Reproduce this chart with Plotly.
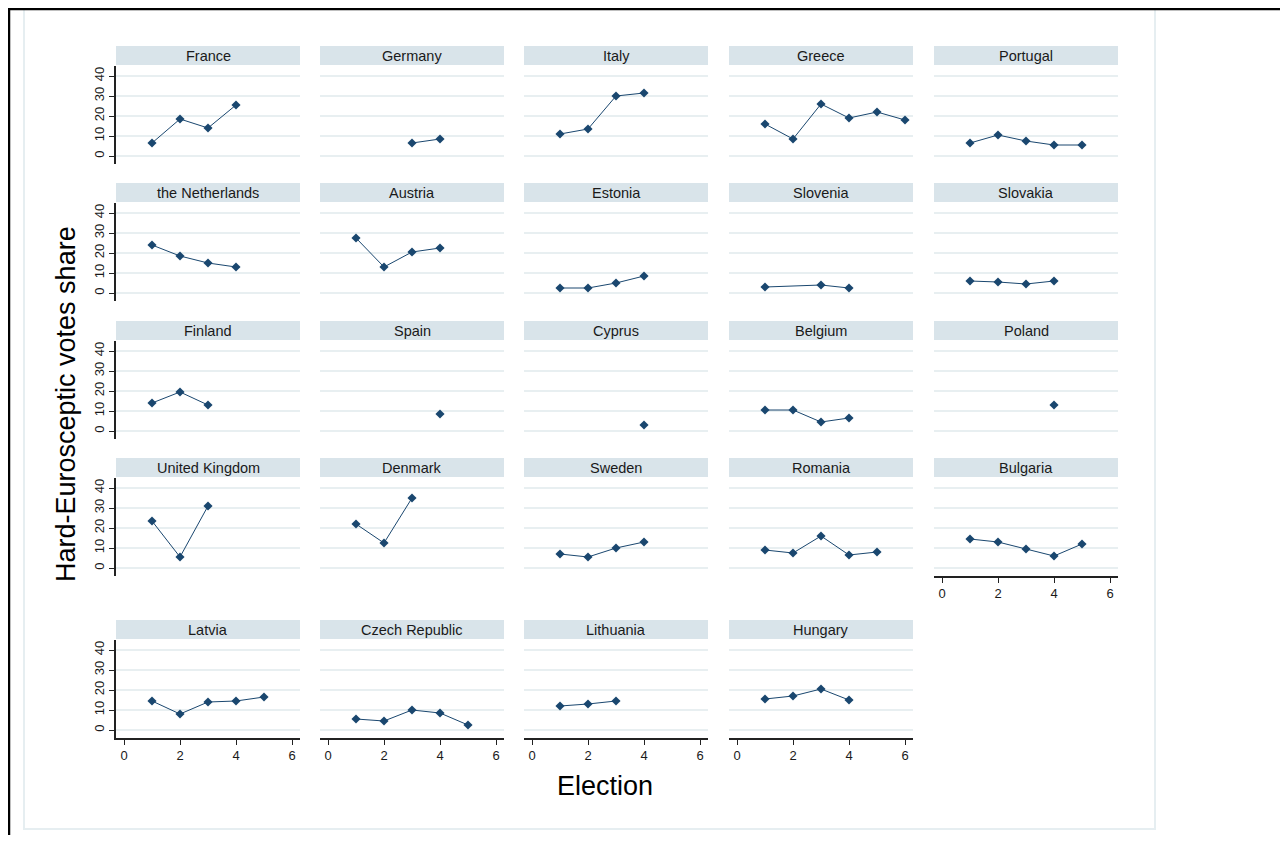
import plotly.graph_objects as go

# ---------------- data ----------------
countries = ["France", "Germany", "Italy", "Greece", "Portugal",
             "the Netherlands", "Austria", "Estonia", "Slovenia", "Slovakia",
             "Finland", "Spain", "Cyprus", "Belgium", "Poland",
             "United Kingdom", "Denmark", "Sweden", "Romania", "Bulgaria",
             "Latvia", "Czech Republic", "Lithuania", "Hungary"]

elections = [[1, 2, 3, 4], [3, 4], [1, 2, 3, 4], [1, 2, 3, 4, 5, 6], [1, 2, 3, 4, 5],
             [1, 2, 3, 4], [1, 2, 3, 4], [1, 2, 3, 4], [1, 3, 4], [1, 2, 3, 4],
             [1, 2, 3], [4], [4], [1, 2, 3, 4], [4],
             [1, 2, 3], [1, 2, 3], [1, 2, 3, 4], [1, 2, 3, 4, 5], [1, 2, 3, 4, 5],
             [1, 2, 3, 4, 5], [1, 2, 3, 4, 5], [1, 2, 3], [1, 2, 3, 4]]

vote_share = [[6.5, 18.5, 14, 25.5], [6.5, 8.5], [11, 13.5, 30, 31.5], [16, 8.5, 26, 19, 22, 18], [6.5, 10.5, 7.5, 5.5, 5.5],
              [24, 18.5, 15, 13], [27.5, 13, 20.5, 22.5], [2.5, 2.5, 5, 8.5], [3, 4, 2.5], [6, 5.5, 4.5, 6],
              [14, 19.5, 13], [8.5], [3], [10.5, 10.5, 4.5, 6.5], [13],
              [23.5, 5.5, 31], [22, 12.5, 35], [7, 5.5, 10, 13], [9, 7.5, 16, 6.5, 8], [14.5, 13, 9.5, 6, 12],
              [14.5, 8, 14, 14.5, 16.5], [5.5, 4.5, 10, 8.5, 2.5], [12, 13, 14.5], [15.5, 17, 20.5, 15]]

y_ticks = [0, 10, 20, 30, 40]
x_ticks = [0, 2, 4, 6]
y_title = "Hard-Eurosceptic votes share"
x_title = "Election"

# ---------------- geometry (screen px, figure offset by 8px body margin) ----------------
W, H = 1272, 827
OFF = 8
def px(x):
    return (x - OFF) / W
def py(y):
    return 1 - (y - OFF) / H

col_left = [116, 320, 524, 729, 934]
panel_w = 184
plot_top = [66, 203, 341, 478, 640]
plot_h = 98

NAVY = "#1a476f"
GRID = "#e8eff1"
TITLE_BG = "#d9e4ea"
TXT = "#1a1a1a"
FONT = "Liberation Sans, Arial, sans-serif"

fig = go.Figure()
layout = dict(width=W, height=H, margin=dict(l=0, r=0, t=0, b=0),
              paper_bgcolor="white", plot_bgcolor="white", showlegend=False,
              font=dict(family=FONT, color=TXT))
shapes = []
annotations = []

bottom_panels = {19, 20, 21, 22, 23}

for i, name in enumerate(countries):
    r, c = divmod(i, 5)
    n = "" if i == 0 else str(i + 1)
    x0 = col_left[c]
    x1 = x0 + panel_w
    y0 = plot_top[r]
    y1 = y0 + plot_h
    bottom = i in bottom_panels
    first = c == 0

    fig.add_trace(go.Scatter(
        x=elections[i], y=vote_share[i], mode="lines+markers",
        line=dict(color=NAVY, width=1),
        marker=dict(symbol="diamond", size=7, color=NAVY),
        xaxis="x" + n, yaxis="y" + n, hoverinfo="x+y"))

    layout["xaxis" + n] = dict(
        domain=[px(x0), px(x1)], anchor="y" + n, range=[-8 / 28, 6 + 8 / 28],
        showgrid=False, zeroline=False,
        showline=bottom, linecolor="#222", linewidth=1.5,
        ticks="outside" if bottom else "", ticklen=5, tickcolor="#222", tickwidth=1.2,
        tickvals=x_ticks, showticklabels=bottom,
        tickfont=dict(size=13, color=TXT, family=FONT), fixedrange=True)
    layout["yaxis" + n] = dict(
        domain=[py(y1), py(y0)], anchor="x" + n, range=[-4, 45],
        showgrid=True, gridcolor=GRID, gridwidth=1.5, zeroline=False,
        showline=first, linecolor="#222", linewidth=1.5,
        ticks="outside" if first else "", ticklen=5, tickcolor="#222", tickwidth=1.2,
        tickvals=y_ticks, showticklabels=first, tickangle=-90,
        tickfont=dict(size=13, color=TXT, family=FONT), fixedrange=True)

    # title strip
    shapes.append(dict(type="rect", xref="paper", yref="paper",
                       x0=px(x0), x1=px(x1), y0=py(y0 - 1), y1=py(y0 - 20),
                       fillcolor=TITLE_BG, line=dict(width=0), layer="below"))
    annotations.append(dict(text=name, xref="paper", yref="paper",
                            x=px((x0 + x1) / 2), y=py(y0 - 10.5),
                            xanchor="center", yanchor="middle", showarrow=False,
                            font=dict(size=14.5, color=TXT, family=FONT)))

# outer frames
shapes.append(dict(type="rect", xref="paper", yref="paper",
                   x0=px(24), x1=px(1155), y0=py(829), y1=py(9),
                   line=dict(color="#e6eef1", width=2), fillcolor="rgba(0,0,0,0)"))
shapes.append(dict(type="line", xref="paper", yref="paper",
                   x0=px(8), x1=1, y0=py(9), y1=py(9),
                   line=dict(color="black", width=2.5)))
shapes.append(dict(type="line", xref="paper", yref="paper",
                   x0=px(9), x1=px(9), y0=0, y1=py(8),
                   line=dict(color="black", width=2.5)))

annotations.append(dict(text=y_title, xref="paper", yref="paper",
                        x=px(66), y=py(404), textangle=-90, showarrow=False,
                        xanchor="center", yanchor="middle",
                        font=dict(size=27, color="black", family=FONT)))
annotations.append(dict(text=x_title, xref="paper", yref="paper",
                        x=px(605), y=py(786), showarrow=False,
                        xanchor="center", yanchor="middle",
                        font=dict(size=27, color="black", family=FONT)))

layout["shapes"] = shapes
layout["annotations"] = annotations
fig.update_layout(**layout)
fig.write_html("out.html")
